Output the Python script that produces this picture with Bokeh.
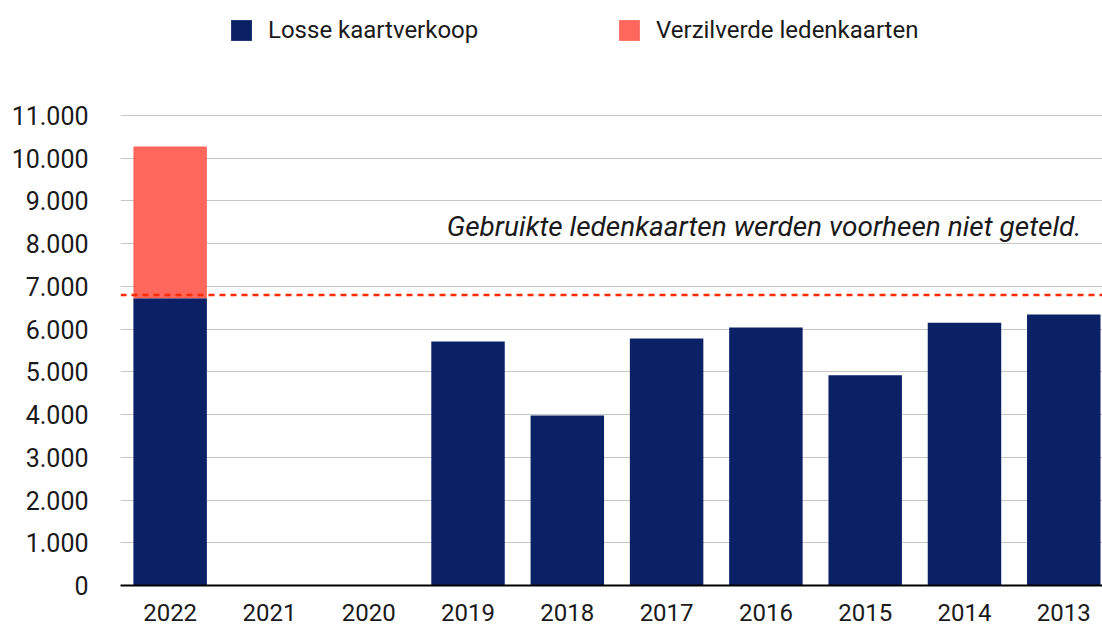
from bokeh.plotting import figure
from bokeh.models import (ColumnDataSource, FixedTicker, Legend, LegendItem,
                          Span, Label, Range1d)
from bokeh.embed import file_html
from bokeh.resources import INLINE

# ---- data ----
years = ["2022", "2021", "2020", "2019", "2018", "2017", "2016", "2015", "2014", "2013"]
losse = [6720, 0, 0, 5710, 3980, 5780, 6040, 4920, 6150, 6340]
verzilverde = [3555, 0, 0, 0, 0, 0, 0, 0, 0, 0]
threshold = 6800
y_ticks = [0, 1000, 2000, 3000, 4000, 5000, 6000, 7000, 8000, 9000, 10000, 11000]
y_tick_labels = ["0", "1.000", "2.000", "3.000", "4.000", "5.000", "6.000",
                 "7.000", "8.000", "9.000", "10.000", "11.000"]
series_names = ["Losse kaartverkoop", "Verzilverde ledenkaarten"]
note = "Gebruikte ledenkaarten werden voorheen niet geteld."

BLUE = "#0a2166"
CORAL = "#ff675d"
FONT = "Roboto"

# layout: frame from y=5 to y=585; 11.000 gridline must sit at y=115
frame_top, frame_bottom, grid_top = 5, 585, 115
y_end = y_ticks[-1] * (frame_bottom - frame_top) / (frame_bottom - grid_top)

idx = list(range(len(years)))
source = ColumnDataSource(dict(x=idx, losse=losse, verzilverde=verzilverde))

p = figure(width=1102, height=628, output_backend="svg", toolbar_location=None,
           x_range=Range1d(-0.5, 9.39), y_range=Range1d(0, y_end),
           min_border_left=120, min_border_right=0, min_border_top=frame_top,
           min_border_bottom=628 - frame_bottom)
p.outline_line_color = None
p.background_fill_color = "white"
p.border_fill_color = "white"

r = p.vbar_stack(["losse", "verzilverde"], x="x", width=0.74, source=source,
                 color=[BLUE, CORAL], line_color=None)

# axes
p.xaxis.ticker = FixedTicker(ticks=idx)
p.xaxis.major_label_overrides = {i: y for i, y in zip(idx, years)}
p.xaxis.axis_line_color = "black"
p.xaxis.axis_line_width = 2
p.xaxis.major_tick_line_color = None
p.xaxis.minor_tick_line_color = None
p.xaxis.major_label_text_font = FONT
p.xaxis.major_label_text_font_size = "24px"
p.xaxis.major_label_text_color = "#1a1a1a"
p.xaxis.major_label_standoff = 12

p.yaxis.ticker = FixedTicker(ticks=y_ticks)
p.yaxis.major_label_overrides = {t: l for t, l in zip(y_ticks, y_tick_labels)}
p.yaxis.axis_line_color = None
p.yaxis.major_tick_line_color = None
p.yaxis.minor_tick_line_color = None
p.yaxis.major_label_text_font = FONT
p.yaxis.major_label_text_font_size = "25px"
p.yaxis.major_label_text_color = "#1a1a1a"
p.yaxis.major_label_standoff = 26

p.xgrid.grid_line_color = None
p.ygrid.grid_line_color = "#c6c6c6"
p.ygrid.grid_line_width = 1

# threshold dashed line
p.add_layout(Span(location=threshold, dimension="width", line_color="#ff2a00",
                  line_width=2.5, line_dash="6 5"))

# note
p.add_layout(Label(x=961, y=359, x_units="screen", y_units="screen", text=note,
                   text_align="right", text_baseline="alphabetic",
                   text_font=FONT, text_font_style="italic",
                   text_font_size="28px", text_color="#1a1a1a"))

# legends (one per item so each can be placed)
for rend, name, xpos in zip(r, series_names, [108, 496]):
    lg = Legend(items=[LegendItem(label=name, renderers=[rend])],
                location=(xpos, 541), orientation="horizontal",
                glyph_width=26, glyph_height=26, label_standoff=14,
                label_text_font=FONT, label_text_font_size="24px",
                label_text_color="#1a1a1a", label_height=26,
                padding=0, margin=0, border_line_color=None,
                background_fill_alpha=0)
    p.add_layout(lg, "center")

open("out.html", "w").write(file_html(p, INLINE))
